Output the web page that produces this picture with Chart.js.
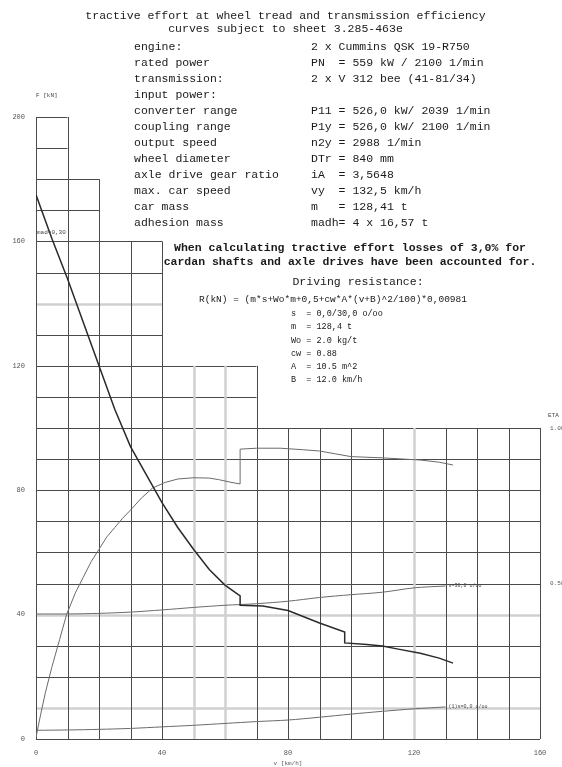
<!DOCTYPE html>
<html>
<head>
<meta charset="utf-8">
<script src="https://cdn.jsdelivr.net/npm/chart.js@4/dist/chart.umd.min.js"></script>
<style>
  body { margin: 0; background: #fff; }
  #wrap { position: relative; width: 562px; height: 767px; overflow: hidden; }
  canvas { position: absolute; left: 0; top: 0; }
  .t { position: absolute; font-family: "Liberation Mono", "DejaVu Sans Mono", monospace; color: #1a1a1a; white-space: pre; }
</style>
</head>
<body>
<div id="wrap">
  <canvas id="chart" width="562" height="767"></canvas>
  <div class="t" style="left:0;width:571px;top:9px;font-size:11.5px;line-height:13px;text-align:center;">tractive effort at wheel tread and transmission efficiency
curves subject to sheet 3.285-463e</div>
  <div class="t" style="left:134px;top:39px;font-size:11.5px;line-height:16px;">engine:
rated power
transmission:
input power:
converter range
coupling range
output speed
wheel diameter
axle drive gear ratio
max. car speed
car mass
adhesion mass</div>
  <div class="t" style="left:311px;top:39px;font-size:11.5px;line-height:16px;">2 x Cummins QSK 19-R750
PN  = 559 kW / 2100 1/min
2 x V 312 bee (41-81/34)

P11 = 526,0 kW/ 2039 1/min
P1y = 526,0 kW/ 2100 1/min
n2y = 2988 1/min
DTr = 840 mm
iA  = 3,5648
vy  = 132,5 km/h
m   = 128,41 t
madh= 4 x 16,57 t</div>
  <div class="t" style="left:0;width:700px;top:241px;font-size:11.5px;line-height:14px;text-align:center;font-weight:bold;">When calculating tractive effort losses of 3,0% for
cardan shafts and axle drives have been accounted for.</div>
  <div class="t" style="left:0;width:716px;top:275px;font-size:11.5px;line-height:14px;text-align:center;">Driving resistance:</div>
  <div class="t" style="left:199px;top:294px;font-size:9.5px;line-height:12px;">R(kN) = (m*s+Wo*m+0,5+cw*A*(v+B)^2/100)*0,00981</div>
  <div class="t" style="left:291px;top:308px;font-size:8.5px;line-height:13.3px;">s  = 0,0/30,0 o/oo
m  = 128,4 t
Wo = 2.0 kg/t
cw = 0.88
A  = 10.5 m^2
B  = 12.0 km/h</div>
</div>
<script>
// tractive effort at wheel tread [kN]
const speedTE = [0, 5, 10, 15, 20, 25, 30, 35, 40, 45, 50, 55, 60, 64.8, 64.8, 72, 80, 90, 98, 98, 105, 110, 115, 122, 128, 132.4];
const forceTE = [175, 161, 148, 134, 120, 106, 94, 85, 76, 68, 61, 54.5, 49.5, 46, 43, 42.8, 41.3, 37.3, 34.4, 30.9, 30.4, 29.9, 28.9, 27.6, 26, 24.4];

// transmission efficiency (right axis)
const speedEta = [0, 1.5, 3, 5, 7.5, 9.7, 12.5, 15, 17.5, 20, 22.5, 25, 27.5, 30, 33.5, 37, 41, 45, 50, 55, 58, 61.6, 64.8, 64.8, 70, 77.5, 85, 90, 95, 100, 110, 122, 128, 132.4];
const eta = [0.006, 0.08, 0.15, 0.23, 0.32, 0.40, 0.47, 0.52, 0.57, 0.61, 0.65, 0.68, 0.71, 0.736, 0.775, 0.807, 0.825, 0.836, 0.84, 0.839, 0.834, 0.826, 0.82, 0.932, 0.935, 0.935, 0.93, 0.926, 0.917, 0.908, 0.904, 0.897, 0.89, 0.881];

// driving resistance [kN] for gradient 30 o/oo and 0 o/oo
const speedRes = [0, 10, 20, 30, 40, 50, 60, 70, 80, 90, 100, 110, 120, 130];
const res30 = [40.2, 40.2, 40.4, 40.8, 41.5, 42.3, 43, 43.5, 44.3, 45.5, 46.4, 47.2, 48.6, 49.2];
const res0 = [2.8, 2.9, 3.1, 3.4, 3.9, 4.4, 5, 5.6, 6.1, 7, 8, 8.9, 9.7, 10.3];
const resLabels = ["s=30,0 o/oo", "(1)s=0,0 o/oo"];

// grid: top of each 10 km/h column [kN]
const gridStep = 10;
const gridTops = [200, 180, 160, 160, 120, 120, 120, 100, 100, 100, 100, 100, 100, 100, 100, 100];
const grayX = [50, 60, 120];
const grayY = [10, 40, 140];

const adhesionLabel = "mad=0,30";
const adhesionLabelY = 163;

function pts(xs, ys) {
    return xs.map((x, i) => ({ x: x, y: ys[i] }));
}

const stairGrid = {
    id: "stairGrid",
    beforeDatasetsDraw(chart) {
        const ctx = chart.ctx;
        const xs = chart.scales.x, ys = chart.scales.y;
        const n = gridTops.length;
        ctx.save();
        // horizontal lines
        for (let v = 0; v <= 200; v += gridStep) {
            let cols = 0;
            while (cols < n && gridTops[cols] >= v) cols++;
            if (cols === 0) continue;
            const py = Math.round(ys.getPixelForValue(v)) + 0.5;
            const gray = grayY.includes(v);
            ctx.strokeStyle = gray ? "#d0d0d0" : "#4a4a4a";
            ctx.lineWidth = gray ? 2.5 : 1;
            ctx.beginPath();
            ctx.moveTo(xs.getPixelForValue(0), py);
            ctx.lineTo(xs.getPixelForValue(cols * gridStep), py);
            ctx.stroke();
        }
        // vertical lines
        for (let i = 0; i <= n; i++) {
            const top = Math.max(i > 0 ? gridTops[i - 1] : 0, i < n ? gridTops[i] : 0);
            const v = i * gridStep;
            const px = Math.round(xs.getPixelForValue(v)) + 0.5;
            const gray = grayX.includes(v);
            ctx.strokeStyle = gray ? "#d0d0d0" : "#4a4a4a";
            ctx.lineWidth = gray ? 2.5 : 1;
            ctx.beginPath();
            ctx.moveTo(px, ys.getPixelForValue(0));
            ctx.lineTo(px, ys.getPixelForValue(top));
            ctx.stroke();
        }
        ctx.restore();
    },
    afterDatasetsDraw(chart) {
        const ctx = chart.ctx;
        const xs = chart.scales.x, ys = chart.scales.y;
        ctx.save();
        ctx.fillStyle = "#444";
        ctx.textBaseline = "middle";
        ctx.font = "5px 'Liberation Mono', monospace";
        const last = speedRes.length - 1;
        ctx.fillText(resLabels[0], xs.getPixelForValue(speedRes[last]) + 3, ys.getPixelForValue(res30[last]));
        ctx.fillText(resLabels[1], xs.getPixelForValue(speedRes[last]) + 3, ys.getPixelForValue(res0[last]));
        ctx.font = "6px 'Liberation Mono', monospace";
        ctx.fillText(adhesionLabel, xs.getPixelForValue(0) + 1, ys.getPixelForValue(adhesionLabelY));
        // axis captions
        ctx.fillText("F [kN]", xs.getPixelForValue(0), ys.getPixelForValue(200) - 22);
        ctx.fillText("ETA", chart.chartArea.right + 8, chart.scales.y2.getPixelForValue(1) - 13);
        ctx.restore();
    }
};

new Chart(document.getElementById("chart").getContext("2d"), {
    type: "scatter",
    data: {
        datasets: [
            { label: "tractive effort", data: pts(speedTE, forceTE), borderColor: "#2a2a2a", borderWidth: 1.5, pointRadius: 0, showLine: true, tension: 0, yAxisID: "y" },
            { label: "efficiency", data: pts(speedEta, eta), borderColor: "#6a6a6a", borderWidth: 1, pointRadius: 0, showLine: true, tension: 0, yAxisID: "y2" },
            { label: "resistance 30", data: pts(speedRes, res30), borderColor: "#6a6a6a", borderWidth: 1, pointRadius: 0, showLine: true, tension: 0.3, yAxisID: "y" },
            { label: "resistance 0", data: pts(speedRes, res0), borderColor: "#6a6a6a", borderWidth: 1, pointRadius: 0, showLine: true, tension: 0.3, yAxisID: "y" }
        ]
    },
    options: {
        responsive: false,
        animation: false,
        layout: { padding: { top: 117, left: 0, right: 0, bottom: 0 } },
        plugins: { legend: { display: false }, tooltip: { enabled: false } },
        scales: {
            x: {
                type: "linear", min: 0, max: 160,
                grid: { display: false }, border: { display: false },
                ticks: { stepSize: 40, padding: 2, color: "#555", font: { family: "Liberation Mono", size: 7 } },
                title: { display: true, text: "v [km/h]", color: "#555", padding: 0, font: { family: "Liberation Mono", size: 6 } },
                afterFit(scale) { scale.height = 28; }
            },
            y: {
                position: "left", min: 0, max: 200,
                grid: { display: false }, border: { display: false },
                ticks: { stepSize: 40, padding: 3, color: "#555", font: { family: "Liberation Mono", size: 7 } },
                afterFit(scale) { scale.width = 36; }
            },
            y2: {
                position: "right", min: 0, max: 2,
                grid: { display: false }, border: { display: false },
                ticks: {
                    stepSize: 0.5, padding: 2, color: "#555", font: { family: "Liberation Mono", size: 6 },
                    callback: v => (v === 0.5 || v === 1) ? v.toFixed(2) : ""
                },
                afterFit(scale) { scale.width = 22; }
            }
        }
    },
    plugins: [stairGrid]
});
</script>
</body>
</html>
